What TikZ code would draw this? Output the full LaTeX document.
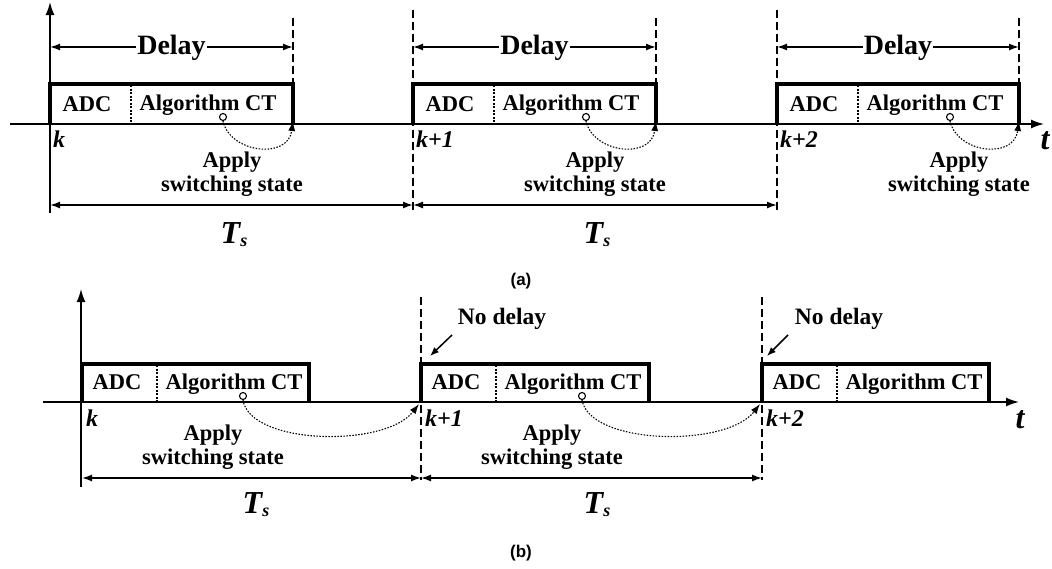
\documentclass[tikz,border=0pt]{standalone}
\usepackage{fontspec}
\setmainfont{Liberation Serif}
\setsansfont{Liberation Sans}
\usetikzlibrary{arrows.meta}
\tikzset{
  axisline/.style={line width=1.6pt},
  boxline/.style={line width=3.2pt, line join=miter},
  sepline/.style={line width=1.1pt, dash pattern=on 2pt off 1.5pt},
  dashline/.style={line width=1.1pt, dash pattern=on 8pt off 4pt},
  dimline/.style={line width=1.5pt, {Latex[length=10pt,width=7pt]}-{Latex[length=10pt,width=7pt]}},
  curveline/.style={line width=1.1pt, dash pattern=on 1.5pt off 1.5pt, -{Latex[length=10pt,width=7pt]}},
  dot/.style={circle, draw, line width=1.1pt, fill=white, inner sep=0pt, minimum size=7pt},
  lbl/.style={font=\fontsize{22.5}{23}\selectfont\bfseries, inner sep=0pt},
  delaylbl/.style={font=\fontsize{28}{30}\selectfont\bfseries, fill=white, inner sep=1pt},
  applylbl/.style={font=\fontsize{22.5}{24}\selectfont\bfseries, align=center, inner sep=0pt},
  klbl/.style={font=\fontsize{24}{24}\selectfont\bfseries\itshape, inner sep=0pt, anchor=west},
  tslbl/.style={inner sep=0pt},
  caplbl/.style={font=\fontsize{17}{17}\selectfont\sffamily\bfseries, inner sep=0pt},
  tlbl/.style={font=\fontsize{32}{32}\selectfont\bfseries\itshape, inner sep=0pt},
  ndlbl/.style={font=\fontsize{23.5}{24}\selectfont\bfseries, inner sep=0pt},
}
\newcommand{\TsText}{{\fontsize{32}{32}\selectfont\bfseries\itshape T\raisebox{-3pt}{\fontsize{18}{18}\selectfont s}}}
\begin{document}
\begin{tikzpicture}[x=1pt,y=-1pt]
\useasboundingbox (0,0) rectangle (1052,568);

% ================= (a) =================
\coordinate (a-axL) at (10,124);
\coordinate (a-axR) at (1044,124);
\coordinate (a-vB) at (50,213);
\coordinate (a-vT) at (50,2);
\draw[axisline,-{Latex[length=13pt,width=9pt]}] (a-axL) -- (a-axR);
\draw[axisline,-{Latex[length=13pt,width=9pt]}] (a-vB) -- (a-vT);
\node[tlbl] (a-t) at (1045,141) {t};

% dashed verticals at k+1 and k+2
\coordinate (a-d1T) at (413,10);  \coordinate (a-d1B) at (413,213);
\coordinate (a-d2T) at (777,10);  \coordinate (a-d2B) at (777,213);
\draw[dashline] (a-d1T) -- (a-d1B);
\draw[dashline] (a-d2T) -- (a-d2B);

\foreach \L/\R/\n/\kt in {50/293/1/k, 413/656/2/k+1, 777/1019/3/k+2}{
  % dashed end line
  \coordinate (a-e\n T) at (\R,18);
  \coordinate (a-e\n B) at (\R,84);
  \draw[dashline] (a-e\n T) -- (a-e\n B);
  % box
  \coordinate (a-b\n a) at (\L,124);
  \coordinate (a-b\n b) at (\L,84);
  \coordinate (a-b\n c) at (\R,84);
  \coordinate (a-b\n d) at (\R,124);
  \draw[boxline] (a-b\n a) -- (a-b\n b) -- (a-b\n c) -- (a-b\n d);
  \coordinate (a-s\n T) at (\L+81,85);
  \coordinate (a-s\n B) at (\L+81,124);
  \draw[sepline] (a-s\n T) -- (a-s\n B);
  \node[lbl] (a-adc\n) at (\L+37,104) {ADC};
  \node[lbl] (a-alg\n) at (\L+158,105) {Algorithm CT};
  % Delay
  \coordinate (a-dl\n) at (\L,47);
  \coordinate (a-dr\n) at (\R,47);
  \draw[dimline] (a-dl\n) -- (a-dr\n) node[delaylbl, midway, yshift=-1pt] (a-delay\n) {Delay};
  % apply switching state
  \node[dot] (a-c\n) at (\L+173,117) {};
  \coordinate (a-ap\n) at (\R,121);
  \draw[curveline] (a-c\n.south) .. controls (\L+180,153) and (\R-5,160) .. (a-ap\n);
  \node[applylbl] (a-apply\n) at (\L+182,174) {Apply\\switching state};
  \node[klbl] (a-k\n) at (\L+3,139) {\kt};
}

% Ts arrows
\coordinate (a-ts0) at (50,205);
\coordinate (a-ts1) at (413,205);
\coordinate (a-ts2) at (777,205);
\draw[dimline] (a-ts0) -- (a-ts1);
\draw[dimline] (a-ts1) -- (a-ts2);
\node[tslbl] (a-Ts1) at (234,235) {\TsText};
\node[tslbl] (a-Ts2) at (597,235) {\TsText};

\node[caplbl] (capa) at (521,281) {(a)};

% ================= (b) =================
\coordinate (b-axL) at (43,402);
\coordinate (b-axR) at (1019,402);
\coordinate (b-vB) at (81,487);
\coordinate (b-vT) at (81,289);
\draw[axisline,-{Latex[length=13pt,width=9pt]}] (b-axL) -- (b-axR);
\draw[axisline,-{Latex[length=13pt,width=9pt]}] (b-vB) -- (b-vT);
\node[tlbl] (b-t) at (1020,420) {t};

\coordinate (b-d1T) at (421,297);  \coordinate (b-d1B) at (421,480);
\coordinate (b-d2T) at (762,297);  \coordinate (b-d2B) at (762,480);
\draw[dashline] (b-d1T) -- (b-d1B);
\draw[dashline] (b-d2T) -- (b-d2B);

\foreach \L/\R/\n/\kt in {82/309/1/k, 421/649/2/k+1, 762/989/3/k+2}{
  \coordinate (b-b\n a) at (\L,402);
  \coordinate (b-b\n b) at (\L,364);
  \coordinate (b-b\n c) at (\R,364);
  \coordinate (b-b\n d) at (\R,402);
  \draw[boxline] (b-b\n a) -- (b-b\n b) -- (b-b\n c) -- (b-b\n d);
  \coordinate (b-s\n T) at (\L+75,365);
  \coordinate (b-s\n B) at (\L+75,402);
  \draw[sepline] (b-s\n T) -- (b-s\n B);
  \node[lbl] (b-adc\n) at (\L+35,382) {ADC};
  \node[lbl] (b-alg\n) at (\L+152,384) {Algorithm CT};
  \node[klbl] (b-k\n) at (\L+4,418) {\kt};
}

% apply switching state curves
\foreach \n/\L in {1/82, 2/421}{
  \node[dot] (b-c\n) at (\L+161,396) {};
  \node[applylbl] (b-apply\n) at (\L+131,447) {Apply\\switching state};
}
\coordinate (b-ap1) at (419,404);
\coordinate (b-ap2) at (760,404);
\draw[curveline] (b-c1.south) .. controls (250,445) and (385,448) .. (b-ap1);
\draw[curveline] (b-c2.south) .. controls (590,445) and (726,448) .. (b-ap2);

% No delay
\node[ndlbl] (b-nd1) at (502,319) {No delay};
\node[ndlbl] (b-nd2) at (839,319) {No delay};
\coordinate (b-n1s) at (452,335);
\coordinate (b-n1e) at (430,356);
\coordinate (b-n2s) at (788,335);
\coordinate (b-n2e) at (767,356);
\draw[line width=1.5pt,-{Latex[length=9pt,width=7pt]}] (b-n1s) -- (b-n1e);
\draw[line width=1.5pt,-{Latex[length=9pt,width=7pt]}] (b-n2s) -- (b-n2e);

% Ts arrows
\coordinate (b-ts0) at (82,478);
\coordinate (b-ts1) at (421,478);
\coordinate (b-ts2) at (762,478);
\draw[dimline] (b-ts0) -- (b-ts1);
\draw[dimline] (b-ts1) -- (b-ts2);
\node[tslbl] (b-Ts1) at (256,505) {\TsText};
\node[tslbl] (b-Ts2) at (597,505) {\TsText};

\node[caplbl] (capb) at (521,553) {(b)};
\end{tikzpicture}
\end{document}
